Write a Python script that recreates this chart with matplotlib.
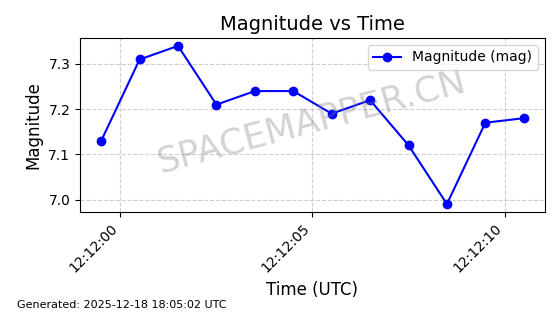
import matplotlib
matplotlib.use("Agg")
import matplotlib.pyplot as plt
import matplotlib.dates as mdates
import pandas as pd

# Magnitude readings (UTC timestamps)
times = ["2025-12-18 12:11:59.5", "2025-12-18 12:12:00.5", "2025-12-18 12:12:01.5",
         "2025-12-18 12:12:02.5", "2025-12-18 12:12:03.5", "2025-12-18 12:12:04.5",
         "2025-12-18 12:12:05.5", "2025-12-18 12:12:06.5", "2025-12-18 12:12:07.5",
         "2025-12-18 12:12:08.5", "2025-12-18 12:12:09.5", "2025-12-18 12:12:10.5"]
magnitude = [7.13, 7.31, 7.34, 7.21, 7.24, 7.24, 7.19, 7.22, 7.12, 6.99, 7.17, 7.18]
generated = "Generated: 2025-12-18 18:05:02 UTC"

t = pd.to_datetime(times)

fig, ax = plt.subplots(figsize=(5.6, 3.14), dpi=100)
ax.plot(t, magnitude, marker='o', color='blue', label='Magnitude (mag)')
ax.set_title("Magnitude vs Time", fontsize=14)
ax.set_xlabel("Time (UTC)", fontsize=12)
ax.set_ylabel("Magnitude", fontsize=12)
ax.grid(True, linestyle='--', alpha=0.6)
ax.legend(loc='upper right')

ax.xaxis.set_major_locator(mdates.SecondLocator(bysecond=range(0, 60, 5)))
ax.xaxis.set_major_formatter(mdates.DateFormatter('%H:%M:%S'))
plt.setp(ax.get_xticklabels(), rotation=45, ha='right')

# watermark
ax.text(0.497, 0.52, "SPACEMAPPER.CN", transform=ax.transAxes, fontsize=25.5,
        color='gray', alpha=0.35, rotation=15, ha='center', va='center')

fig.text(0.03, 0.02, generated, fontsize=8)

plt.subplots_adjust(left=0.143, right=0.973, top=0.879, bottom=0.325)
plt.savefig("out.png", dpi=100)
